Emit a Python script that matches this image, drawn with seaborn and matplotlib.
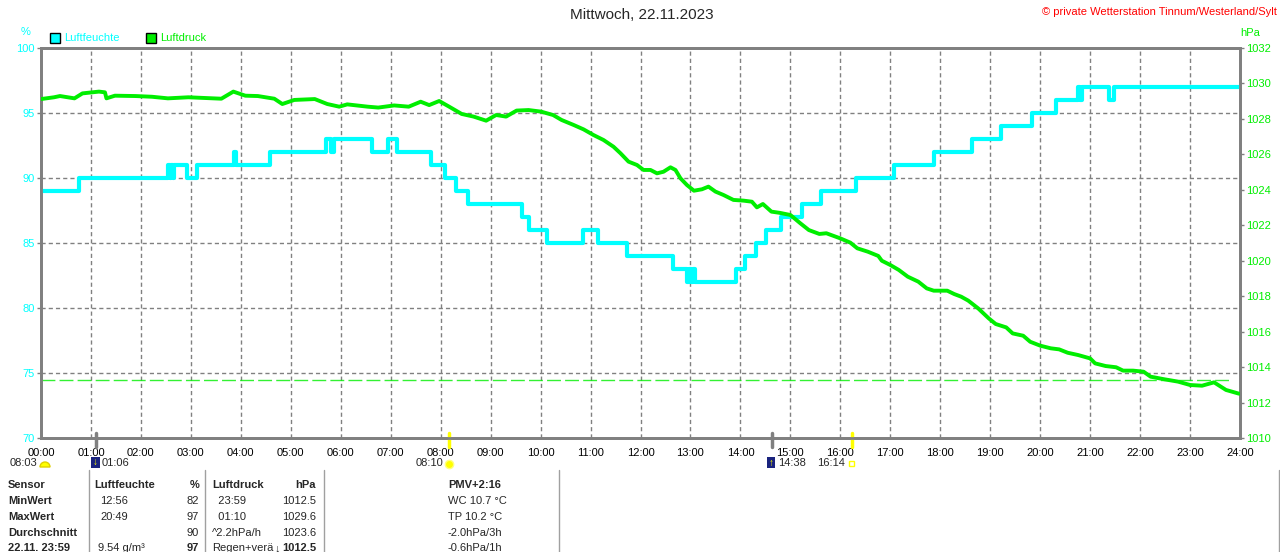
import pandas as pd
import seaborn as sns
import matplotlib.pyplot as plt
from matplotlib.patches import Rectangle, Wedge

# Luftfeuchte (%) - Stufenverlauf: Stunde der Aenderung -> neuer Wert
hum_hours = [0.00, 0.77, 2.55, 2.58, 2.61, 2.64, 2.67, 2.92, 3.12, 3.86, 3.90,
             4.58, 5.70, 5.80, 5.86, 6.62, 6.95, 7.12, 7.80, 8.09, 8.31, 8.55,
             9.62, 9.77, 10.12, 10.85, 11.15, 11.72, 12.66, 12.93, 12.98, 13.02,
             13.05, 13.10, 13.91, 14.09, 14.31, 14.52, 14.82, 15.23, 15.62, 16.32,
             17.08, 17.88, 18.64, 19.22, 19.83, 20.31, 20.76, 20.79, 20.83, 21.38,
             21.48, 24.00]
hum_values = [89, 90, 91, 90, 91, 90, 91, 90, 91, 92, 91,
              92, 93, 92, 93, 92, 93, 92, 91, 90, 89, 88,
              87, 86, 85, 86, 85, 84, 83, 82, 83, 82,
              83, 82, 83, 84, 85, 86, 87, 88, 89, 90,
              91, 92, 93, 94, 95, 96, 97, 96, 97, 96,
              97, 97]

# Luftdruck (hPa)
press_hours = [0.00, 0.26, 0.38, 0.67, 0.83, 1.16, 1.28, 1.31, 1.48, 1.89, 2.22,
               2.54, 2.95, 3.61, 3.85, 4.09, 4.34, 4.67, 4.83, 5.07, 5.48, 5.73,
               5.97, 6.13, 6.54, 6.75, 7.07, 7.36, 7.60, 7.77, 7.97, 8.17, 8.42,
               8.66, 8.91, 9.11, 9.31, 9.52, 9.76, 10.01, 10.25, 10.42, 10.66,
               10.86, 11.06, 11.26, 11.46, 11.60, 11.76, 11.93, 12.06, 12.20,
               12.33, 12.46, 12.60, 12.70, 12.80, 12.93, 13.07, 13.23, 13.36,
               13.50, 13.66, 13.86, 14.06, 14.23, 14.33, 14.45, 14.62, 14.79,
               15.00, 15.20, 15.37, 15.58, 15.72, 16.00, 16.20, 16.34, 16.55,
               16.76, 16.83, 17.00, 17.17, 17.35, 17.56, 17.73, 17.87, 18.14,
               18.28, 18.42, 18.56, 18.76, 18.97, 19.11, 19.32, 19.45, 19.66,
               19.80, 20.00, 20.21, 20.38, 20.55, 20.76, 21.00, 21.10, 21.31,
               21.52, 21.66, 21.86, 22.07, 22.21, 22.49, 22.76, 23.00, 23.24,
               23.48, 23.72, 23.98]
press_values = [1029.12, 1029.22, 1029.29, 1029.16, 1029.44, 1029.54, 1029.50,
                1029.16, 1029.31, 1029.29, 1029.25, 1029.16, 1029.22, 1029.14,
                1029.54, 1029.31, 1029.29, 1029.14, 1028.84, 1029.07, 1029.12,
                1028.84, 1028.69, 1028.82, 1028.69, 1028.64, 1028.76, 1028.69,
                1028.97, 1028.78, 1029.01, 1028.69, 1028.28, 1028.13, 1027.90,
                1028.22, 1028.13, 1028.47, 1028.50, 1028.41, 1028.22, 1027.94,
                1027.66, 1027.41, 1027.09, 1026.81, 1026.43, 1026.06, 1025.59,
                1025.40, 1025.12, 1025.12, 1024.93, 1025.02, 1025.27, 1025.12,
                1024.65, 1024.27, 1023.95, 1024.03, 1024.18, 1023.90, 1023.71,
                1023.43, 1023.39, 1023.33, 1023.01, 1023.20, 1022.77, 1022.70,
                1022.58, 1022.11, 1021.73, 1021.51, 1021.55, 1021.26, 1021.02,
                1020.70, 1020.51, 1020.27, 1020.00, 1019.76, 1019.48, 1019.10,
                1018.82, 1018.44, 1018.31, 1018.31, 1018.12, 1017.97, 1017.75,
                1017.31, 1016.75, 1016.43, 1016.24, 1015.90, 1015.77, 1015.43,
                1015.21, 1015.06, 1015.00, 1014.81, 1014.68, 1014.49, 1014.21,
                1014.06, 1013.99, 1013.80, 1013.80, 1013.74, 1013.46, 1013.31,
                1013.18, 1012.99, 1012.95, 1013.14, 1012.71, 1012.50]

norm_pressure = 1013.25

hour_ticks = list(range(25))
hour_labels = [f'{h:02d}:00' for h in hour_ticks]
hum_ticks = [70, 75, 80, 85, 90, 95, 100]
press_ticks = list(range(1010, 1033, 2))

# Mond/Sonne: Aufgang Mond 01:06, Sonnenaufgang 08:10, Mond unter 14:38, Sonnenuntergang 16:14
event_hours = [1 + 6 / 60, 8 + 10 / 60, 14 + 38 / 60, 16 + 14 / 60]
event_colors = ['#808080', '#ffff00', '#808080', '#ffff00']

CYAN = '#00ffff'
GREEN = '#00ee00'
GRAY = '#808080'

sns.set_theme(style='white')
plt.rcParams['font.family'] = ['Liberation Sans', 'DejaVu Sans']
plt.rcParams['font.size'] = 8

W, H = 1280, 552
fig = plt.figure(figsize=(W / 100, H / 100), dpi=100)
fig.patch.set_facecolor('white')
ax = fig.add_axes([41 / W, 1 - 438 / H, 1199 / W, 390 / H])
ax.set_facecolor('white')

df_h = pd.DataFrame({'Stunde': hum_hours, 'Luftfeuchte': hum_values})
df_p = pd.DataFrame({'Stunde': press_hours, 'Luftdruck': press_values})

sns.lineplot(data=df_h, x='Stunde', y='Luftfeuchte', ax=ax, color=CYAN, lw=3,
             drawstyle='steps-post', estimator=None, zorder=3)
ax.set_xlim(0, 24)
ax.set_ylim(70, 100)
ax.set_xticks(hour_ticks, hour_labels)
ax.set_yticks(hum_ticks)
ax.set_xlabel('')
ax.set_ylabel('')
ax.grid(True, color=GRAY, lw=1, linestyle=(0, (3, 2.2)))

ax2 = ax.twinx()
sns.lineplot(data=df_p, x='Stunde', y='Luftdruck', ax=ax2, color=GREEN, lw=2.8,
             estimator=None, zorder=3)
ax2.axhline(norm_pressure, xmin=0, xmax=0.992, color=GREEN, lw=1,
            linestyle=(0, (10, 3)), alpha=0.8)
ax2.set_ylim(1010, 1032)
ax2.set_yticks(press_ticks)
ax2.set_ylabel('')
ax2.set_xlim(0, 24)

for a in (ax, ax2):
    for s in a.spines.values():
        s.set_color(GRAY)
        s.set_linewidth(2)

ax.tick_params(axis='x', length=0, pad=7, labelsize=8, labelcolor='black')
ax.tick_params(axis='y', length=3, width=1, color=GRAY, labelcolor=CYAN,
               pad=1.5, labelsize=8, left=True)
ax2.tick_params(axis='y', length=3, width=1, color=GRAY, labelcolor=GREEN,
                pad=1.5, labelsize=8, right=True)

# Ereignis-Markierungen an der Zeitachse
for t, c in zip(event_hours, event_colors):
    ax.plot([t, t], [-0.023, 0.013], transform=ax.get_xaxis_transform(),
            color=c, lw=2.5, clip_on=False, zorder=5)

# Overlay in Pixelkoordinaten fuer Texte und Tabelle
ov = fig.add_axes([0, 0, 1, 1], facecolor='none', zorder=10)
ov.set_xlim(0, W)
ov.set_ylim(H, 0)
ov.axis('off')

ov.text(642, 15, 'Mittwoch, 22.11.2023', ha='center', va='center', fontsize=11)
ov.text(1277, 12, '© private Wetterstation Tinnum/Westerland/Sylt', ha='right',
        va='center', fontsize=8, color='#ff0000')
ov.text(26, 32, '%', ha='center', va='center', fontsize=8, color=CYAN)
ov.text(1250, 33, 'hPa', ha='center', va='center', fontsize=8, color=GREEN)

ov.add_patch(Rectangle((50, 33), 10, 10, facecolor=CYAN, edgecolor='black', lw=1))
ov.text(64, 38, 'Luftfeuchte', ha='left', va='center', fontsize=8, color=CYAN)
ov.add_patch(Rectangle((146, 33), 10, 10, facecolor=GREEN, edgecolor='black', lw=1))
ov.text(160, 38, 'Luftdruck', ha='left', va='center', fontsize=8, color=GREEN)

# Sonne / Mond unter der Achse
ov.text(10, 463, '08:03', ha='left', va='center', fontsize=8)
ov.add_patch(Wedge((45, 467), 5, 180, 360, facecolor='#ffff00', edgecolor='#e0d000'))
ov.add_patch(Rectangle((91, 457), 9, 11, facecolor='#1a237e', edgecolor='none'))
ov.text(95.5, 462, '↓', ha='center', va='center', fontsize=7, color='#ffff00',
        fontweight='bold')
ov.text(102, 463, '01:06', ha='left', va='center', fontsize=8)
ov.text(443, 463, '08:10', ha='right', va='center', fontsize=8)
ov.plot([449], [464], marker='o', ms=6, color='#ffff00', mec='#ffff80')
ov.add_patch(Rectangle((767, 457), 8, 11, facecolor='#1a237e', edgecolor='none'))
ov.text(771, 463, '↑', ha='center', va='center', fontsize=7, color='#ffff00',
        fontweight='bold')
ov.text(778, 463, '14:38', ha='left', va='center', fontsize=8)
ov.text(845, 463, '16:14', ha='right', va='center', fontsize=8)
ov.add_patch(Rectangle((849, 461), 5, 5, facecolor='none', edgecolor='#ffff00', lw=1))

# Tabelle
for xl in (89, 205, 324, 559):
    ov.plot([xl, xl], [470, H], color='#a0a0a0', lw=1)
ov.plot([1279, 1279], [470, H], color='#a0a0a0', lw=1)

rows_y = [485, 501, 517, 533, 548]
col1 = ['Sensor', 'MinWert', 'MaxWert', 'Durchschnitt', '22.11. 23:59']
for y, s in zip(rows_y, col1):
    ov.text(8, y, s, ha='left', va='center', fontsize=8, fontweight='bold')

ov.text(94, rows_y[0], 'Luftfeuchte', ha='left', va='center', fontsize=8, fontweight='bold')
ov.text(199, rows_y[0], '%', ha='right', va='center', fontsize=8, fontweight='bold')
hum_time = ['12:56', '20:49', '', '9.54 g/m³']
hum_val = ['82', '97', '90', '97']
for i, (y, s, v) in enumerate(zip(rows_y[1:], hum_time, hum_val)):
    ov.text(98 if i == 3 else 100, y, s, ha='left', va='center', fontsize=8)
    ov.text(199, y, v, ha='right', va='center', fontsize=8,
            fontweight='bold' if i == 3 else 'normal')

ov.text(212, rows_y[0], 'Luftdruck', ha='left', va='center', fontsize=8, fontweight='bold')
ov.text(316, rows_y[0], 'hPa', ha='right', va='center', fontsize=8, fontweight='bold')
press_time = ['  23:59', '  01:10', '^2.2hPa/h', 'Regen+verä']
press_val = ['1012.5', '1029.6', '1023.6', '1012.5']
for i, (y, s, v) in enumerate(zip(rows_y[1:], press_time, press_val)):
    ov.text(212, y, s, ha='left', va='center', fontsize=8)
    ov.text(316, y, v, ha='right', va='center', fontsize=8,
            fontweight='bold' if i == 3 else 'normal')
ov.text(277, rows_y[4], '↓', ha='center', va='center', fontsize=8, fontweight='bold')

col4 = ['PMV+2:16', 'WC 10.7 °C', 'TP 10.2 °C', '-2.0hPa/3h', '-0.6hPa/1h']
for i, (y, s) in enumerate(zip(rows_y, col4)):
    ov.text(448, y, s, ha='left', va='center', fontsize=8,
            fontweight='bold' if i == 0 else 'normal')

fig.savefig('out.png', dpi=100, facecolor='white')
